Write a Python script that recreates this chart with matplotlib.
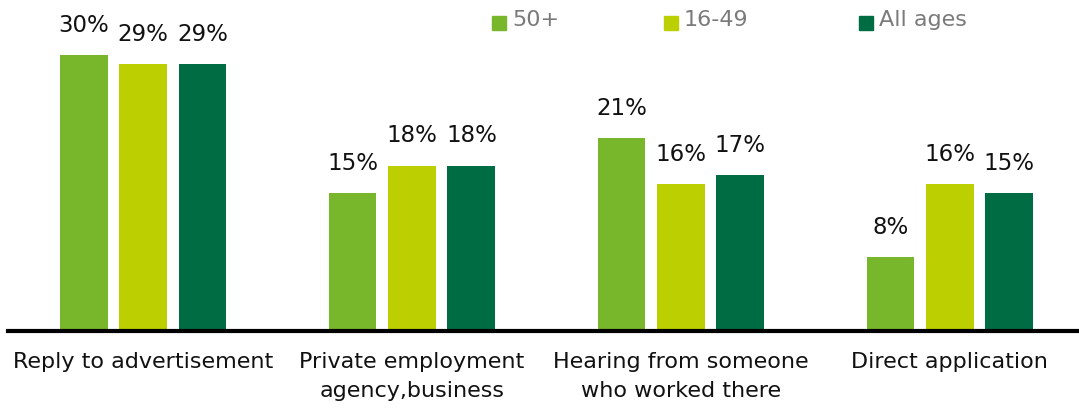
import matplotlib
matplotlib.use("Agg")
import matplotlib.pyplot as plt
import numpy as np

categories = ["Reply to advertisement", "Private employment\nagency,business",
              "Hearing from someone\nwho worked there", "Direct application"]
series_names = ["50+", "16-49", "All ages"]
values_50plus = [30, 15, 21, 8]
values_16_49 = [29, 18, 16, 16]
values_all = [29, 18, 17, 15]
colors = ["#78b72b", "#bccf00", "#006c43"]

plt.rcParams['font.family'] = ['DejaVu Sans']

fig = plt.figure(figsize=(10.79, 4.12), dpi=100)
ax = fig.add_axes([8 / 1079, 81 / 412, 1 - 8 / 1079, 331 / 412])

x = np.arange(len(categories))
width = 0.178
offset = 0.221
for i, (vals, col) in enumerate(zip([values_50plus, values_16_49, values_all], colors)):
    bars = ax.bar(x + (i - 1) * offset, vals, width, color=col, zorder=2)
    for b, v in zip(bars, vals):
        ax.annotate(f"{v}%", (b.get_x() + b.get_width() / 2, v), xytext=(0, 13),
                    textcoords="offset points", ha="center", va="bottom",
                    fontsize=16.5, color="#111111")

ax.set_xlim(-0.502, 3.48)
ax.set_ylim(0, 36)
ax.set_yticks([])
ax.set_xticks(x)
ax.set_xticklabels(categories, fontsize=16, color="#111111", linespacing=1.6)
ax.tick_params(axis="x", length=0, pad=15)
for s in ["top", "right", "left"]:
    ax.spines[s].set_visible(False)
ax.spines["bottom"].set_linewidth(3)
ax.spines["bottom"].set_color("black")
ax.spines["bottom"].set_zorder(3)

# legend row along the top
legend_x = [492, 664, 859]
for lx, name, col in zip(legend_x, series_names, colors):
    fig.patches.append(plt.Rectangle((lx / 1079, 1 - 30 / 412), 14 / 1079, 14 / 412,
                                     transform=fig.transFigure, color=col))
    fig.text((lx + 20) / 1079, 1 - 20 / 412, name, fontsize=16, color="#7a7a7a",
             ha="left", va="center")

fig.savefig("out.png", dpi=100)
